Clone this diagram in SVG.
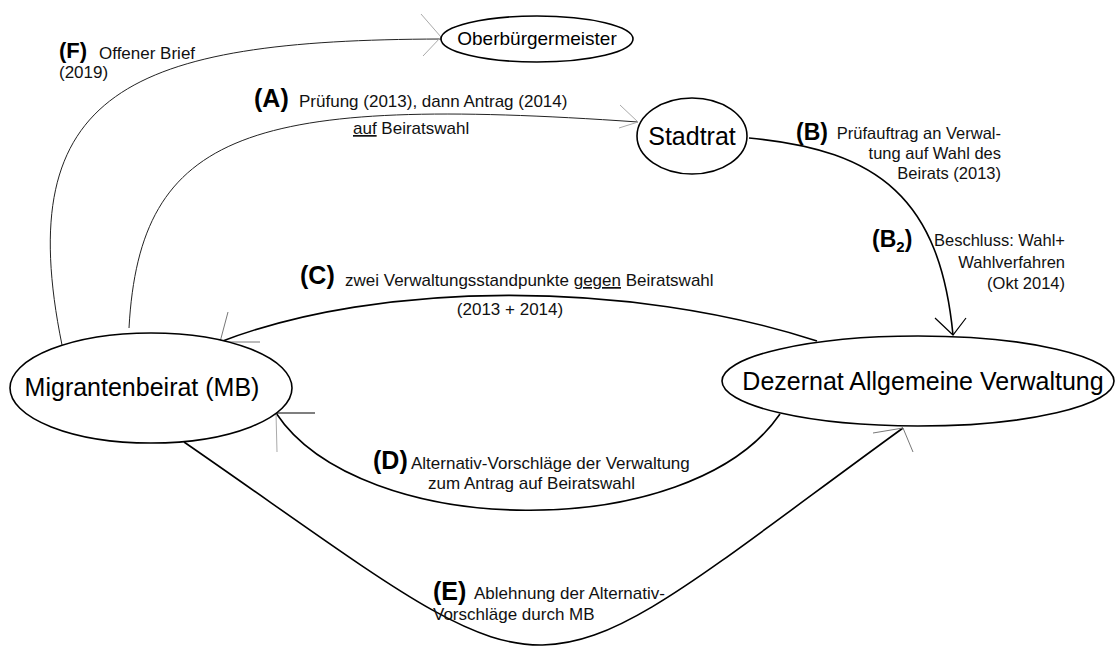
<svg xmlns="http://www.w3.org/2000/svg" width="1115" height="647" viewBox="0 0 1115 647">
<style>
  .node ellipse { fill: #fff; stroke: #000; stroke-width: 1.6; }
  .nt { font-family: "Liberation Sans", Arial, sans-serif; fill: #000; text-anchor: middle; font-size: 25px; }
  .edge { fill: none; stroke: #000; stroke-width: 1.6; }
  .edge.thin { stroke: #222; stroke-width: 1; }
  .bar { fill: none; stroke: #000; stroke-width: 1.2; }
  .bar.lg { stroke: #aaa; stroke-width: 1; }
  .bar.mg { stroke: #777; stroke-width: 1; }
  .lbl { font-family: "Liberation Sans", Arial, sans-serif; font-size: 17px; fill: #111; }
  .lbl.r { font-size: 16.5px; text-anchor: end; }
  .key { font-family: "Liberation Sans", Arial, sans-serif; font-weight: bold; font-size: 25px; fill: #000; }
  .u { text-decoration: underline; }
</style>
<rect width="1115" height="647" fill="#fff"/>

<g id="connectors">
  <!-- F: MB -> Oberbuergermeister -->
  <path class="edge thin" d="M62,345 C10,90 130,40 441,39"/>
  <polyline class="bar lg" points="421,14 441,37 423,56"/>
  <!-- A: MB -> Stadtrat -->
  <path class="edge thin" d="M129,328 C140,130 250,95 638,122"/>
  <polyline class="bar lg" points="620,105 638,122 619,128"/>
  <!-- B: Stadtrat -> Dezernat -->
  <path class="edge" d="M749,138 C880,150 940,200 953,335"/>
  <polyline class="bar" points="935,318 953,335 966,318"/>
  <!-- C: Dezernat -> MB -->
  <path class="edge" d="M817,341 C630,280 380,280 220,342"/>
  <polyline class="bar mg" points="228,312 220,342 260,342"/>
  <!-- D: Dezernat -> MB -->
  <path class="edge" d="M780,414 C690,545 360,540 276,413"/>
  <line class="bar" x1="276" y1="413" x2="315" y2="413"/>
  <line class="bar lg" x1="276" y1="413" x2="277" y2="452"/>
  <!-- E: MB -> Dezernat -->
  <path class="edge" d="M184,442 C579,715 508,715 903,428"/>
  <polyline class="bar mg" points="873,433 903,428 913,452"/>
</g>

<g id="node-oberbuergermeister" class="node">
  <ellipse cx="537" cy="39" rx="96" ry="23"/>
  <text class="nt" x="537" y="45" style="font-size:19px">Oberbürgermeister</text>
</g>
<g id="node-stadtrat" class="node">
  <ellipse cx="692" cy="136" rx="55" ry="38"/>
  <text class="nt" x="692" y="145">Stadtrat</text>
</g>
<g id="node-migrantenbeirat" class="node">
  <ellipse cx="151" cy="388" rx="141" ry="55"/>
  <text class="nt" x="142" y="396">Migrantenbeirat (MB)</text>
</g>
<g id="node-dezernat" class="node">
  <ellipse cx="918" cy="381" rx="196" ry="45"/>
  <text class="nt" x="923" y="390">Dezernat Allgemeine Verwaltung</text>
</g>

<g id="labels">
  <text class="key" x="59" y="58" style="font-size:22px">(F)</text>
  <text class="lbl" x="99" y="59">Offener Brief</text>
  <text class="lbl" x="59" y="78">(2019)</text>

  <text class="key" x="254" y="107">(A)</text>
  <text class="lbl" x="299" y="107">Prüfung (2013), dann Antrag (2014)</text>
  <text class="lbl" x="353" y="134"><tspan class="u">auf</tspan> Beiratswahl</text>

  <text class="key" x="796" y="140" style="font-size:23px">(B)</text>
  <text class="lbl r" x="1001" y="139">Prüfauftrag an Verwal-</text>
  <text class="lbl r" x="1001" y="159">tung auf Wahl des</text>
  <text class="lbl r" x="1001" y="179">Beirats (2013)</text>

  <text class="key" x="872" y="247" style="font-size:23px">(B<tspan dy="5" style="font-size:15px">2</tspan><tspan dy="-5">)</tspan></text>
  <text class="lbl r" x="1065" y="246">Beschluss: Wahl+</text>
  <text class="lbl r" x="1065" y="268">Wahlverfahren</text>
  <text class="lbl r" x="1065" y="289">(Okt 2014)</text>

  <text class="key" x="300" y="284">(C)</text>
  <text class="lbl" x="345" y="286">zwei Verwaltungsstandpunkte <tspan class="u">gegen</tspan> Beiratswahl</text>
  <text class="lbl" x="510" y="315" text-anchor="middle">(2013 + 2014)</text>

  <text class="key" x="373" y="469">(D)</text>
  <text class="lbl" x="411" y="469">Alternativ-Vorschläge der Verwaltung</text>
  <text class="lbl" x="428" y="489">zum Antrag auf Beiratswahl</text>

  <text class="key" x="433" y="600">(E)</text>
  <text class="lbl" x="474" y="599">Ablehnung der Alternativ-</text>
  <text class="lbl" x="433" y="620">Vorschläge durch MB</text>
</g>
</svg>
